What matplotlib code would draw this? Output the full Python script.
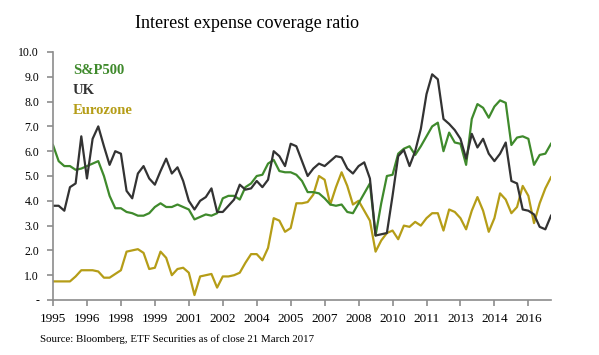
import numpy as np
import matplotlib
matplotlib.use('Agg')
import matplotlib.pyplot as plt

# quarterly values, 1995 Q1 .. 2017 Q1
sp500 = [6.25, 5.6, 5.4, 5.4, 5.25, 5.3, 5.4, 5.5, 5.6, 5.0,
         4.2, 3.7, 3.7, 3.55, 3.5, 3.4, 3.4, 3.5, 3.75, 3.9,
         3.75, 3.75, 3.85, 3.75, 3.65, 3.25, 3.35, 3.45, 3.4, 3.5,
         4.1, 4.2, 4.2, 4.05, 4.55, 4.7, 5.0, 5.05, 5.5, 5.65,
         5.2, 5.15, 5.15, 5.05, 4.8, 4.35, 4.35, 4.3, 4.1, 3.85,
         3.8, 3.85, 3.55, 3.5, 3.9, 4.3, 4.7, 2.6, 3.9, 5.0,
         5.05, 5.9, 6.1, 6.2, 5.85, 6.2, 6.6, 7.0, 7.15, 6.0,
         6.75, 6.35, 6.3, 5.45, 7.3, 7.9, 7.75, 7.35, 7.8, 8.05,
         7.95, 6.25, 6.55, 6.6, 6.5, 5.45, 5.85, 5.9, 6.3]

uk = [3.8, 3.8, 3.6, 4.55, 4.7, 6.6, 4.9, 6.5, 7.0, 6.2,
      5.45, 6.0, 5.9, 4.4, 4.1, 5.1, 5.4, 4.9, 4.65, 5.2,
      5.7, 5.1, 5.35, 4.8, 4.0, 3.65, 4.0, 4.15, 4.5, 3.55,
      3.55, 3.8, 4.05, 4.65, 4.45, 4.5, 4.8, 4.55, 4.85, 6.0,
      5.8, 5.4, 6.3, 6.2, 5.6, 5.0, 5.3, 5.5, 5.4, 5.6,
      5.8, 5.75, 5.3, 5.1, 5.4, 5.55, 4.9, 2.6, 2.65, 2.7,
      4.2, 5.8, 6.05, 5.4, 6.0, 6.9, 8.3, 9.1, 8.9, 7.3,
      7.1, 6.85, 6.5, 5.7, 6.7, 6.15, 6.5, 5.9, 5.6, 5.9,
      6.35, 4.8, 4.7, 3.65, 3.6, 3.45, 2.95, 2.85, 3.4]

eurozone = [0.75, 0.75, 0.75, 0.75, 0.95, 1.2, 1.2, 1.2, 1.15, 0.9,
            0.9, 1.05, 1.2, 1.95, 2.0, 2.05, 1.9, 1.25, 1.3, 1.95,
            1.7, 1.0, 1.25, 1.3, 1.1, 0.2, 0.95, 1.0, 1.05, 0.5,
            0.95, 0.95, 1.0, 1.1, 1.5, 1.85, 1.85, 1.6, 2.1, 3.3,
            3.2, 2.75, 2.9, 3.9, 3.9, 3.95, 4.25, 5.0, 4.85, 3.85,
            4.55, 5.15, 4.6, 3.85, 4.0, 3.6, 3.2, 1.95, 2.4, 2.7,
            2.8, 2.45, 3.0, 2.95, 3.15, 3.0, 3.3, 3.5, 3.5, 2.8,
            3.65, 3.55, 3.3, 2.85, 3.6, 4.15, 3.6, 2.75, 3.3, 4.3,
            4.05, 3.5, 3.75, 4.6, 4.2, 3.1, 3.9, 4.5, 4.95]

year_labels = ['1995', '1996', '1998', '1999', '2001', '2002', '2004', '2005',
               '2007', '2008', '2010', '2011', '2013', '2014', '2016']
y_ticks = [0, 1, 2, 3, 4, 5, 6, 7, 8, 9, 10]

c_sp = '#3f8a2c'
c_uk = '#333333'
c_ez = '#b59d17'
grey = '#8c8c8c'

serif = ['Liberation Serif', 'DejaVu Serif']

fig = plt.figure(figsize=(5.99, 3.55), dpi=100)
ax = fig.add_axes([53 / 599, 1 - 300 / 355, (551 - 53) / 599, (300 - 52) / 355])

q = np.arange(len(sp500))
ax.plot(q, eurozone, color=c_ez, lw=1.6, solid_joinstyle='round')
ax.plot(q, sp500, color=c_sp, lw=1.6, solid_joinstyle='round')
ax.plot(q, uk, color=c_uk, lw=1.6, solid_joinstyle='round')

ax.set_xlim(0, len(sp500) - 1)
ax.set_ylim(0, 10)
ax.set_xticks(np.arange(len(year_labels)) * 6)
ax.set_xticklabels(year_labels, family=serif, fontsize=9.5)
ax.set_yticks(y_ticks)
ax.set_yticklabels(['-'] + ['%.1f' % v for v in y_ticks[1:]], family=serif, fontsize=8.5)

for s in ['top', 'right']:
    ax.spines[s].set_visible(False)
for s in ['left', 'bottom']:
    ax.spines[s].set_color(grey)
    ax.spines[s].set_linewidth(1.2)
ax.tick_params(axis='both', colors=grey, length=4, width=1.2, labelcolor='black')
ax.tick_params(axis='x', pad=5)
ax.tick_params(axis='y', pad=6)

# legend as coloured text
ax.text(0.04, 0.925, 'S&P500', transform=ax.transAxes, color=c_sp, family=serif,
        fontsize=10.5, fontweight='bold', va='center')
ax.text(0.04, 0.845, 'UK', transform=ax.transAxes, color=c_uk, family=serif,
        fontsize=10.5, fontweight='bold', va='center')
ax.text(0.04, 0.765, 'Eurozone', transform=ax.transAxes, color=c_ez, family=serif,
        fontsize=10.5, fontweight='bold', va='center')

fig.text(247 / 599, 1 - 24 / 355, 'Interest expense coverage ratio', ha='center', va='center',
         family=serif, fontsize=13)
fig.text(40 / 599, 1 - 339 / 355, 'Source: Bloomberg, ETF Securities as of close 21 March 2017',
         ha='left', va='center', family=serif, fontsize=7.8)

fig.savefig('out.png', dpi=100)
